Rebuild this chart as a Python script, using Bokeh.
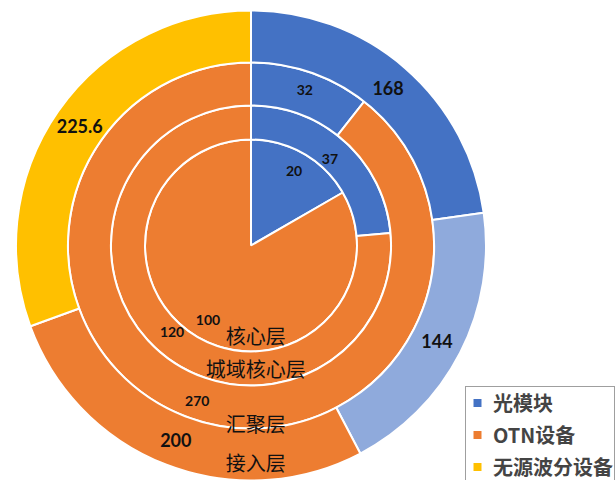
import numpy as np
from bokeh.plotting import figure
from bokeh.models import ColumnDataSource, Legend, LegendItem
from bokeh.core.properties import value
from bokeh.embed import file_html
from bokeh.resources import INLINE

# ---------------- data ----------------
ring_names = ["核心层", "城域核心层", "汇聚层", "接入层"]
legend_labels = ["光模块", "OTN设备", "无源波分设备"]

core_labels = ["光模块", "OTN设备"]
core_values = [20, 100]
metro_labels = ["光模块", "OTN设备"]
metro_values = [37, 120]
agg_labels = ["光模块", "OTN设备"]
agg_values = [32, 270]
access_labels = ["光模块", "光模块", "OTN设备", "无源波分设备"]
access_values = [168, 144, 200, 225.6]

# ---------------- style ----------------
colors = {"光模块": "#4472C4", "OTN设备": "#ED7D31", "无源波分设备": "#FFC000"}
access_colors = ["#4472C4", "#8FAADC", "#ED7D31", "#FFC000"]
radii = [0.0, 0.451, 0.596, 0.779, 1.0]
label_r = [0.366, 0.498, 0.70, 0.889]
label_size = ["14px", "14px", "14px", "18px"]
name_r = [0.383, 0.523, 0.757, 0.923]

p = figure(width=615, height=480, x_range=(-1.06596, 1.55106), y_range=(-1.0, 1.04255),
           output_backend="svg", toolbar_location=None, min_border=0,
           x_axis_type=None, y_axis_type=None)
p.grid.visible = False
p.outline_line_color = None
p.background_fill_color = "white"


def fmt(v):
    return f"{v:g}"


def draw_ring(values, cols, k):
    v = np.asarray(values, dtype=float)
    cum = np.concatenate([[0.0], np.cumsum(v)]) / v.sum() * 2 * np.pi
    start = np.pi / 2 - cum[:-1]
    end = np.pi / 2 - cum[1:]
    mid = np.pi / 2 - (cum[:-1] + cum[1:]) / 2
    src = ColumnDataSource(dict(start=start, end=end, color=cols))
    if radii[k] == 0:
        p.wedge(x=0, y=0, radius=radii[k + 1], start_angle="start", end_angle="end",
                direction="clock", fill_color="color", line_color="white", line_width=2,
                source=src)
    else:
        p.annular_wedge(x=0, y=0, inner_radius=radii[k], outer_radius=radii[k + 1],
                        start_angle="start", end_angle="end", direction="clock",
                        fill_color="color", line_color="white", line_width=2, source=src)
    lsrc = ColumnDataSource(dict(x=label_r[k] * np.cos(mid), y=label_r[k] * np.sin(mid),
                                 t=[fmt(x) for x in values]))
    p.text(x="x", y="y", text="t", source=lsrc, text_align="center", text_baseline="middle",
           text_font=value("Lato"), text_font_style="bold", text_font_size=label_size[k],
           text_color="#111111")


draw_ring(core_values, [colors[c] for c in core_labels], 0)
draw_ring(metro_values, [colors[c] for c in metro_labels], 1)
draw_ring(agg_values, [colors[c] for c in agg_labels], 2)
draw_ring(access_values, access_colors, 3)

nsrc = ColumnDataSource(dict(x=[0.02] * 4, y=[-r for r in name_r], t=ring_names))
p.text(x="x", y="y", text="t", source=nsrc, text_align="center", text_baseline="middle",
       text_font=value("Noto Sans CJK SC"), text_font_size="20px", text_color="#111111")

items = []
for lab in legend_labels:
    r = p.scatter(x=[np.nan], y=[np.nan], marker="square", size=8,
                  fill_color=colors[lab], line_color=None)
    items.append(LegendItem(label=lab, renderers=[r]))

legend = Legend(items=items, location=(465, -3), padding=1, spacing=3,
                glyph_width=20, glyph_height=29, label_standoff=6,
                label_text_font="Noto Sans CJK SC", label_text_font_style="bold",
                label_text_font_size="20px", label_height=20,
                border_line_color="#404040", border_line_width=1, margin=0,
                background_fill_color="white", background_fill_alpha=1)
p.add_layout(legend, "center")

open("out.html", "w").write(file_html(p, INLINE))
